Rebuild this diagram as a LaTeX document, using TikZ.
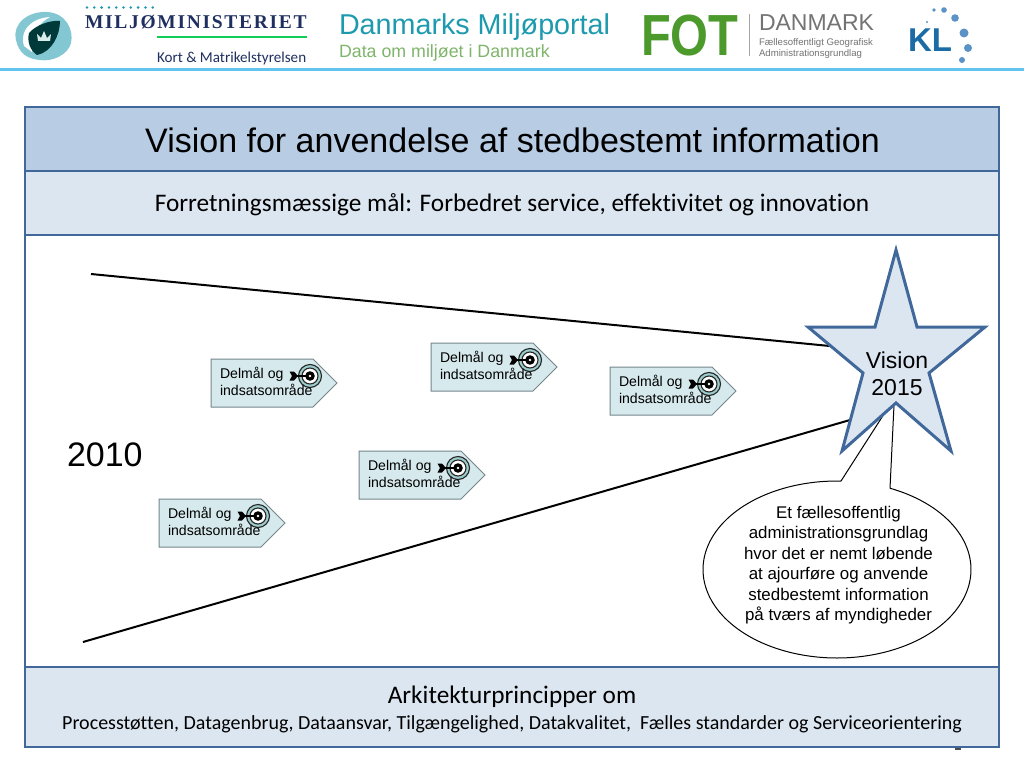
\documentclass[tikz,border=0pt]{standalone}
\usepackage{fontspec}
\setmainfont{Liberation Sans}
\newfontfamily\carl[Ligatures=NoCommon]{Carlito}
\newfontfamily\serifb{Liberation Serif}
\newcommand{\fs}[1]{\fontsize{#1}{#1}\selectfont}
\definecolor{frameblue}{HTML}{41689A}
\definecolor{headblue}{HTML}{B8CCE4}
\definecolor{paleblue}{HTML}{DCE6F1}
\definecolor{tagfill}{HTML}{D6E9EC}
\definecolor{tagedge}{HTML}{74868C}
\definecolor{teal1}{HTML}{1D9AAE}
\definecolor{green1}{HTML}{7FB56B}
\definecolor{navy1}{HTML}{1F2F5F}
\definecolor{fotgreen}{HTML}{4C9A2C}
\definecolor{klblue}{HTML}{1A6BA6}
\definecolor{kllight}{HTML}{5C93C6}
\definecolor{skyrule}{HTML}{62C3EE}
\definecolor{ringteal}{HTML}{9CCBCB}
\tikzset{
  txt/.style={inner sep=0pt,outer sep=0pt,anchor=base west},
  ctxt/.style={inner sep=0pt,outer sep=0pt,anchor=base},
  panelline/.style={draw=frameblue,line width=2.2pt},
  tagbox/.style={fill=tagfill,draw=tagedge,line width=1pt},
  ring/.style={draw=black!85,line width=1.1pt},
  bigline/.style={draw=black,line width=2pt},
  pics/goal/.style={code={
    \path[tagbox] (0,0) -- (102,0) -- (126,24) -- (102,48) -- (0,48) -- cycle;
    \draw[ring,fill=ringteal] (99,17) circle (11.5);
    \draw[ring,fill=white] (99,17) circle (8);
    \fill[black] (99,17) circle (4.8);
    \fill[white] (99,17) circle (1.3);
    \draw[black,line width=1.2pt] (85,17) -- (95,17);
    \fill[black] (78.5,12.5) -- (83,12.5) -- (87,17) -- (83,21.5) -- (78.5,21.5) -- (81,17) -- cycle;
    \node[txt,font=\fs{14.1}] at (9,19) {Delmål og};
    \node[txt,font=\fs{14.1}] at (9,36) {indsatsområde};
  }}
}
\begin{document}
\begin{tikzpicture}[x=1pt,y=-1pt]
\useasboundingbox (0,0) rectangle (1024,768);
\fill[white] (0,0) rectangle (1024,768);

% header rule
\fill[skyrule] (0,68) rectangle (1024,71);

% emblem
\fill[teal1!55!white] (16,40) .. controls (12,22) and (30,11) .. (47,12) .. controls (66,13) and (74,30) .. (71,43) .. controls (68,55) and (52,62) .. (40,60) .. controls (28,59) and (19,54) .. (16,40) -- cycle;
\fill[white] (24,46) .. controls (19,30) and (32,18) .. (50,17) .. controls (40,22) and (30,34) .. (32,52) -- cycle;
\fill[black!55!teal] (29,33) .. controls (36,25) and (50,20) .. (60,21) .. controls (60,35) and (52,52) .. (37,55) .. controls (30,50) and (27,42) .. (29,33) -- cycle;
\fill[white!85!teal] (37,34) -- (41,38) -- (44,31) -- (47,38) -- (51,34) -- (50,41) -- (38,41) -- cycle;

% logos text
\foreach \i in {0,...,9} \fill[teal1] ({87+\i*7.3},7.5) circle (1.4);
\node[txt,font=\serifb\bfseries\fs{19.5},text=navy1] (miljo) at (85,29) {M\kern1.7pt I\kern1.7pt L\kern1.7pt J\kern1.7pt Ø\kern1.7pt M\kern1.7pt I\kern1.7pt N\kern1.7pt I\kern1.7pt S\kern1.7pt T\kern1.7pt E\kern1.7pt R\kern1.7pt I\kern1.7pt E\kern1.7pt T};
\fill[teal1!50!green] (157,36.5) rectangle (307,38.5);
\node[txt,font=\carl\fs{15.1},text=navy1] (kort) at (157,63) {Kort \& Matrikelstyrelsen};
\node[txt,font=\fs{28.7},text=teal1] (portal) at (339,35) {Danmarks Miljøportal};
\node[txt,font=\fs{17.8},text=green1] (data) at (339,58) {Data om miljøet i Danmark};
\node[txt,font=\bfseries\fs{58},text=fotgreen,xscale=.84] (fot) at (641,56) {FOT};
\draw[black!35,line width=1pt] (749,14) -- (749,56);
\node[txt,font=\fs{23},text=black!55] (dk) at (759,31) {DANMARK};
\node[anchor=north west,inner sep=0pt,outer sep=0pt,align=left,font=\fontsize{9.6}{10.4}\selectfont,text=black!55] (fgeo) at (759,39) {Fællesoffentligt Geografisk\\Administrationsgrundlag};
\node[txt,font=\bfseries\fs{33},text=klblue] (kl) at (908,52) {KL};
\fill[kllight] (927,22) circle (1.2);
\fill[kllight] (934,10) circle (1.8);
\fill[kllight] (944,10) circle (2.8);
\fill[kllight] (955,18) circle (3.8);
\fill[kllight] (964,33) circle (4.5);
\fill[kllight] (968,48) circle (4);
\fill[kllight] (962,60) circle (3);

% stray page digit under the frame
\fill[black!70] (955,746) rectangle (961,750);

% panels
\fill[headblue] (25,107) rectangle (999,171);
\fill[paleblue] (25,171) rectangle (999,235);
\fill[paleblue] (25,667) rectangle (999,747);
\draw[panelline] (25,107) rectangle (999,747);
\draw[panelline] (25,171) -- (999,171);
\draw[panelline] (25,235) -- (999,235);
\draw[panelline] (25,667) -- (999,667);

\node[ctxt,font=\fs{34}] (title) at (512.5,152) {Vision for anvendelse af stedbestemt information};
\node[ctxt,font=\carl\fs{25.3}] (goal) at (512,211) {Forretningsmæssige mål: Forbedret service, effektivitet og innovation};
\node[ctxt,font=\carl\fs{25.3}] (arch) at (512,703) {Arkitekturprincipper om};
\node[ctxt,font=\carl\fs{20}] (princ) at (512,729) {Processtøtten, Datagenbrug, Dataansvar, Tilgængelighed, Datakvalitet,\ \ Fælles standarder og Serviceorientering};

% funnel lines
\draw[bigline] (91,274) -- (840,347);
\draw[bigline] (83,642) -- (850,420);
\node[txt,font=\fs{34}] (y2010) at (67,466) {2010};

% goals
\pic at (211,359) {goal};
\pic at (431,343) {goal};
\pic at (610,367) {goal};
\pic at (359,451) {goal};
\pic at (159,499) {goal};

% callout
\draw[black,line width=1pt,fill=white,line join=round] plot[domain=88.3:426.7,samples=150] ({837+134*cos(\x)},{569.5-88.5*sin(\x)}) -- (894,405) -- (884,414) -- cycle;
\foreach \t/\yy in {Et fællesoffentlig/518,administrationsgrundlag/538.5,hvor det er nemt løbende/559,at ajourføre og anvende/579.5,stedbestemt information/600,på tværs af myndigheder/620.5}
  \node[ctxt,font=\fs{16.9}] at (838.5,\yy) {\t};

% star
\draw[draw=frameblue,fill=paleblue,line width=3pt,line join=miter] (896,250) -- (917,327) -- (985,327) -- (929,373) -- (951,451) -- (896,403) -- (842,451) -- (863,373) -- (808,327) -- (875,327) -- cycle;
\node[ctxt,font=\fs{23}] (vis) at (897,368) {Vision};
\node[ctxt,font=\fs{23}] (yr) at (897,395) {2015};
\end{tikzpicture}
\end{document}
